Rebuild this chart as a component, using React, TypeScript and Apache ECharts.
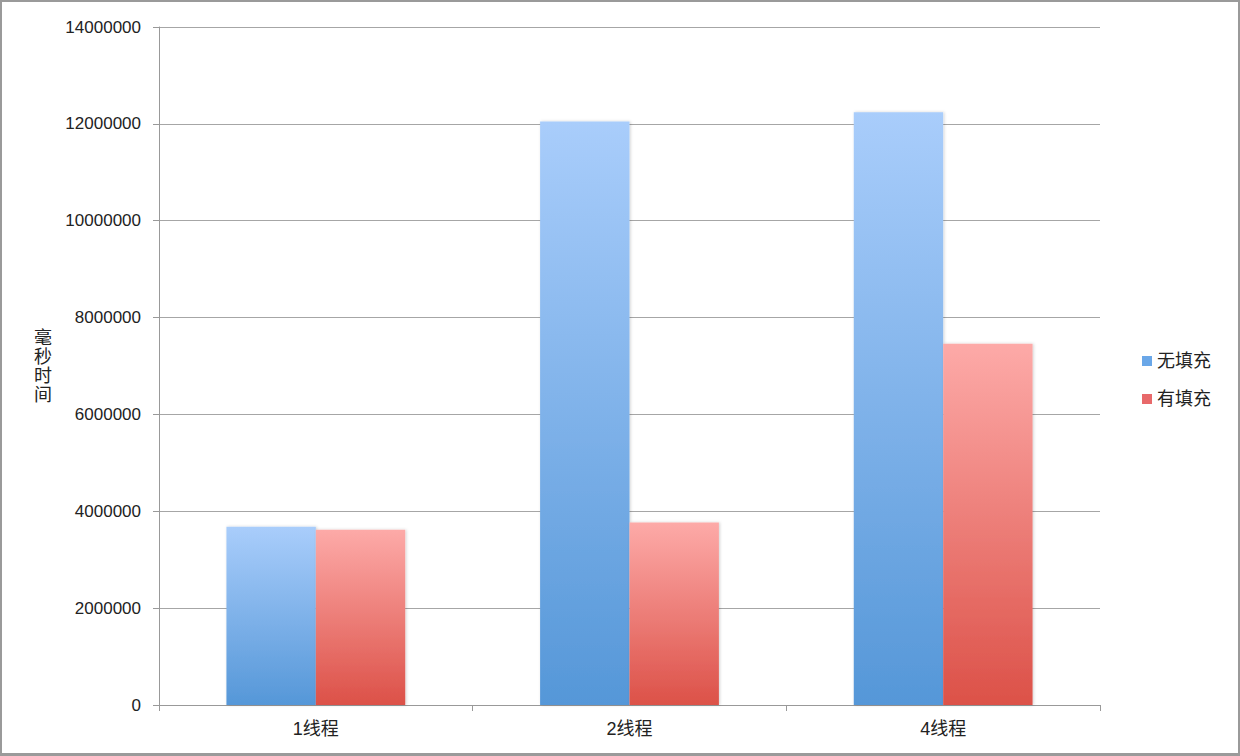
import React, { useEffect, useRef } from "react";
import * as echarts from "echarts";

const categories = ["1线程", "2线程", "4线程"];
const noFill = [3680000, 12050000, 12240000];
const withFill = [3620000, 3770000, 7460000];
const seriesNames = ["无填充", "有填充"];
const yAxisName = "毫秒时间";

const FONT = "'Liberation Sans', 'Noto Sans CJK SC', sans-serif";

export default function App() {
  const ref = useRef<HTMLDivElement>(null);
  useEffect(() => {
    if (!ref.current) return;
    const chart = echarts.init(ref.current, null, { renderer: "svg" });
    const blue = new echarts.graphic.LinearGradient(0, 0, 0, 1, [
      { offset: 0, color: "#a9cdfb" },
      { offset: 1, color: "#5597d8" },
    ]);
    const red = new echarts.graphic.LinearGradient(0, 0, 0, 1, [
      { offset: 0, color: "#fdaaa8" },
      { offset: 1, color: "#dc5148" },
    ]);
    chart.setOption({
      animation: false,
      grid: { left: 159, right: 140, top: 27, bottom: 51, containLabel: false },
      legend: {
        orient: "vertical",
        left: 1137,
        top: 347,
        itemWidth: 10,
        itemHeight: 10,
        itemGap: 20,
        icon: "rect",
        textStyle: { fontFamily: FONT, fontSize: 18, color: "#222" },
        data: [
          { name: seriesNames[0], itemStyle: { color: "#6aa7e8" } },
          { name: seriesNames[1], itemStyle: { color: "#e8696a" } },
        ],
      },
      xAxis: {
        type: "category",
        data: categories,
        axisLine: { lineStyle: { color: "#999", width: 1 } },
        axisTick: { show: true, length: 6, lineStyle: { color: "#999" } },
        axisLabel: { fontFamily: FONT, fontSize: 18, color: "#222", margin: 15 },
      },
      yAxis: {
        type: "value",
        min: 0,
        max: 14000000,
        interval: 2000000,
        name: yAxisName.split("").join("\n"),
        nameLocation: "middle",
        nameRotate: 0,
        nameGap: 107,
        nameTextStyle: { fontFamily: FONT, fontSize: 18, color: "#222", lineHeight: 19 },
        axisLine: { show: true, lineStyle: { color: "#999", width: 1 } },
        axisTick: { show: true, length: 6, lineStyle: { color: "#999" } },
        axisLabel: {
          fontFamily: FONT,
          fontSize: 17,
          color: "#222",
          margin: 18,
          formatter: (v: number) => String(v),
        },
        splitLine: { show: true, lineStyle: { color: "#a6a6a6", width: 1 } },
      },
      series: [
        {
          name: seriesNames[0],
          type: "bar",
          data: noFill,
          barGap: "0%",
          barCategoryGap: "43%",
          itemStyle: {
            color: blue,
            shadowBlur: 3,
            shadowColor: "rgba(0,0,0,0.18)",
            shadowOffsetX: 1,
          },
        },
        {
          name: seriesNames[1],
          type: "bar",
          data: withFill,
          barGap: "0%",
          barCategoryGap: "43%",
          itemStyle: {
            color: red,
            shadowBlur: 3,
            shadowColor: "rgba(0,0,0,0.18)",
            shadowOffsetX: 1,
          },
        },
      ],
    });
    return () => chart.dispose();
  }, []);
  return (
    <div
      style={{
        position: "fixed",
        left: 0,
        top: 0,
        width: 1240,
        height: 756,
        boxSizing: "border-box",
        border: "2px solid #9a9a9a",
        borderBottomWidth: 3,
        background: "#fff",
      }}
    >
      <div ref={ref} style={{ position: "absolute", left: -2, top: -2, width: 1240, height: 756 }} />
    </div>
  );
}
